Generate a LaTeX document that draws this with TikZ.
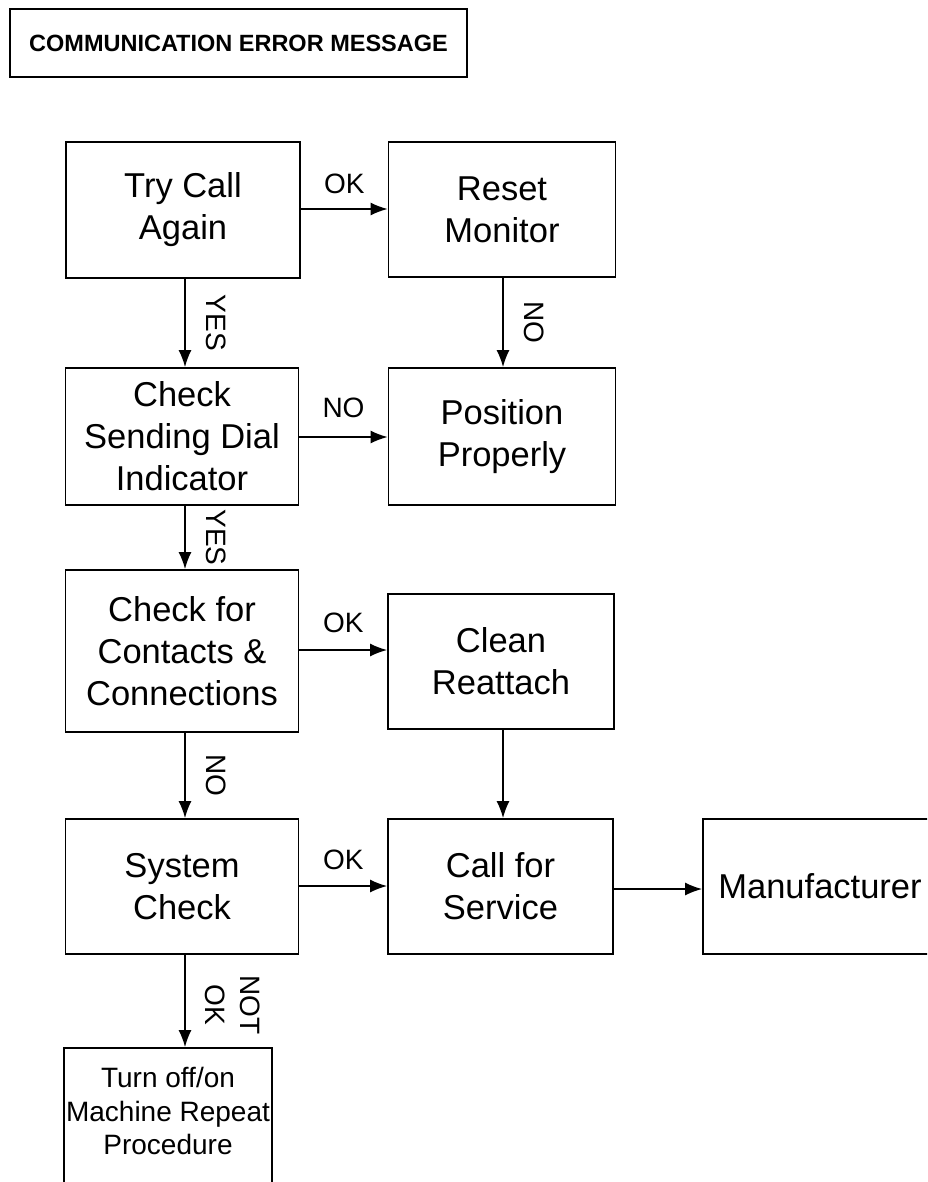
\documentclass[tikz,border=0pt]{standalone}
\usepackage{fontspec}
\setmainfont{Liberation Sans}
\usetikzlibrary{arrows.meta}

\begin{document}
\begin{tikzpicture}[x=1pt,y=-1pt,
  box/.style={draw, line width=1.8pt, align=center, inner sep=0pt,
    font=\fontsize{34.5}{42}\selectfont},
  smallbox/.style={draw, line width=1.8pt, inner sep=0pt},
  titlebox/.style={draw, line width=1.8pt, inner sep=0pt,
    font=\bfseries\fontsize{23.5}{27}\selectfont},
  arr/.style={line width=1.5pt, -{Latex[length=17pt,width=13pt]}},
  lbl/.style={font=\fontsize{28}{35}\selectfont, inner sep=0pt},
  vlbl/.style={lbl, rotate=-90, align=center}
]
\useasboundingbox (0,0) rectangle (927,1182);
\clip (0,0) rectangle (927,1182);

% heading
\node[titlebox, minimum width=457pt, minimum height=68pt] (title) at (238.5,43)
  {COMMUNICATION ERROR MESSAGE};

% left column
\node[box, minimum width=234pt, minimum height=136pt] (try) at (183,210) {Try Call\\Again};
\node[box, minimum width=233pt, minimum height=137pt] (check) at (182,436.5) {Check\\Sending Dial\\Indicator};
\node[box, minimum width=233pt, minimum height=162pt] (contacts) at (182,651) {Check for\\Contacts \&\\Connections};
\node[box, minimum width=233pt, minimum height=135pt] (system) at (182,886.5) {System\\Check};

% right column
\node[box, minimum width=227pt, minimum height=135pt] (reset) at (502,209.5) {Reset\\Monitor};
\node[box, minimum width=227pt, minimum height=137pt] (position) at (502,436.5) {Position\\Properly};
\node[box, minimum width=226pt, minimum height=135pt] (clean) at (501,661.5) {Clean\\Reattach};
\node[box, minimum width=225pt, minimum height=135pt] (call) at (500.5,886.5) {Call for\\Service};

% far right
\node[box, minimum width=234pt, minimum height=135pt] (manu) at (820,886.5) {Manufacturer};

% bottom box, running off the lower edge
\node[smallbox, minimum width=208pt, minimum height=150pt] (turn) at (168,1123) {};
\node[align=center, inner sep=0pt, font=\fontsize{28}{33.5}\selectfont] (turntext) at (168,1111)
  {Turn off/on\\Machine Repeat\\Procedure};

% horizontal connectors
\draw[arr] (try.east |- 0,209) -- (reset.west |- 0,209)
  node[lbl, midway, yshift=25pt] {OK};
\draw[arr] (check.east |- 0,437) -- (position.west |- 0,437)
  node[lbl, midway, yshift=29pt] {NO};
\draw[arr] (contacts.east |- 0,650) -- (clean.west |- 0,650)
  node[lbl, midway, yshift=27pt] {OK};
\draw[arr] (system.east |- 0,886) -- (call.west |- 0,886)
  node[lbl, midway, yshift=26pt] {OK};
\draw[arr] (call.east |- 0,889) -- (manu.west |- 0,889);

% vertical connectors, each with a midpoint for its label
\draw[arr] (try.south -| 185,0) -- (check.north -| 185,0) coordinate[midway] (m1);
\draw[arr] (check.south -| 185,0) -- (contacts.north -| 185,0) coordinate[midway] (m2);
\draw[arr] (contacts.south -| 185,0) -- (system.north -| 185,0) coordinate[midway] (m3);
\draw[arr] (system.south -| 185,0) -- (turn.north -| 185,0) coordinate[midway] (m4);
\draw[arr] (reset.south -| 503,0) -- (position.north -| 503,0) coordinate[midway] (m5);
\draw[arr] (clean.south -| 503,0) -- (call.north -| 503,0);

\node[vlbl] (l1) at ([xshift=31pt]m1) {YES};
\node[vlbl] (l2) at ([xshift=31pt]m2) {YES};
\node[vlbl] (l3) at ([xshift=31pt]m3) {NO};
\node[vlbl] (l4) at ([xshift=48pt,yshift=-4pt]m4) {NOT\\OK};
\node[vlbl] (l5) at ([xshift=31pt]m5) {NO};
\end{tikzpicture}
\end{document}
